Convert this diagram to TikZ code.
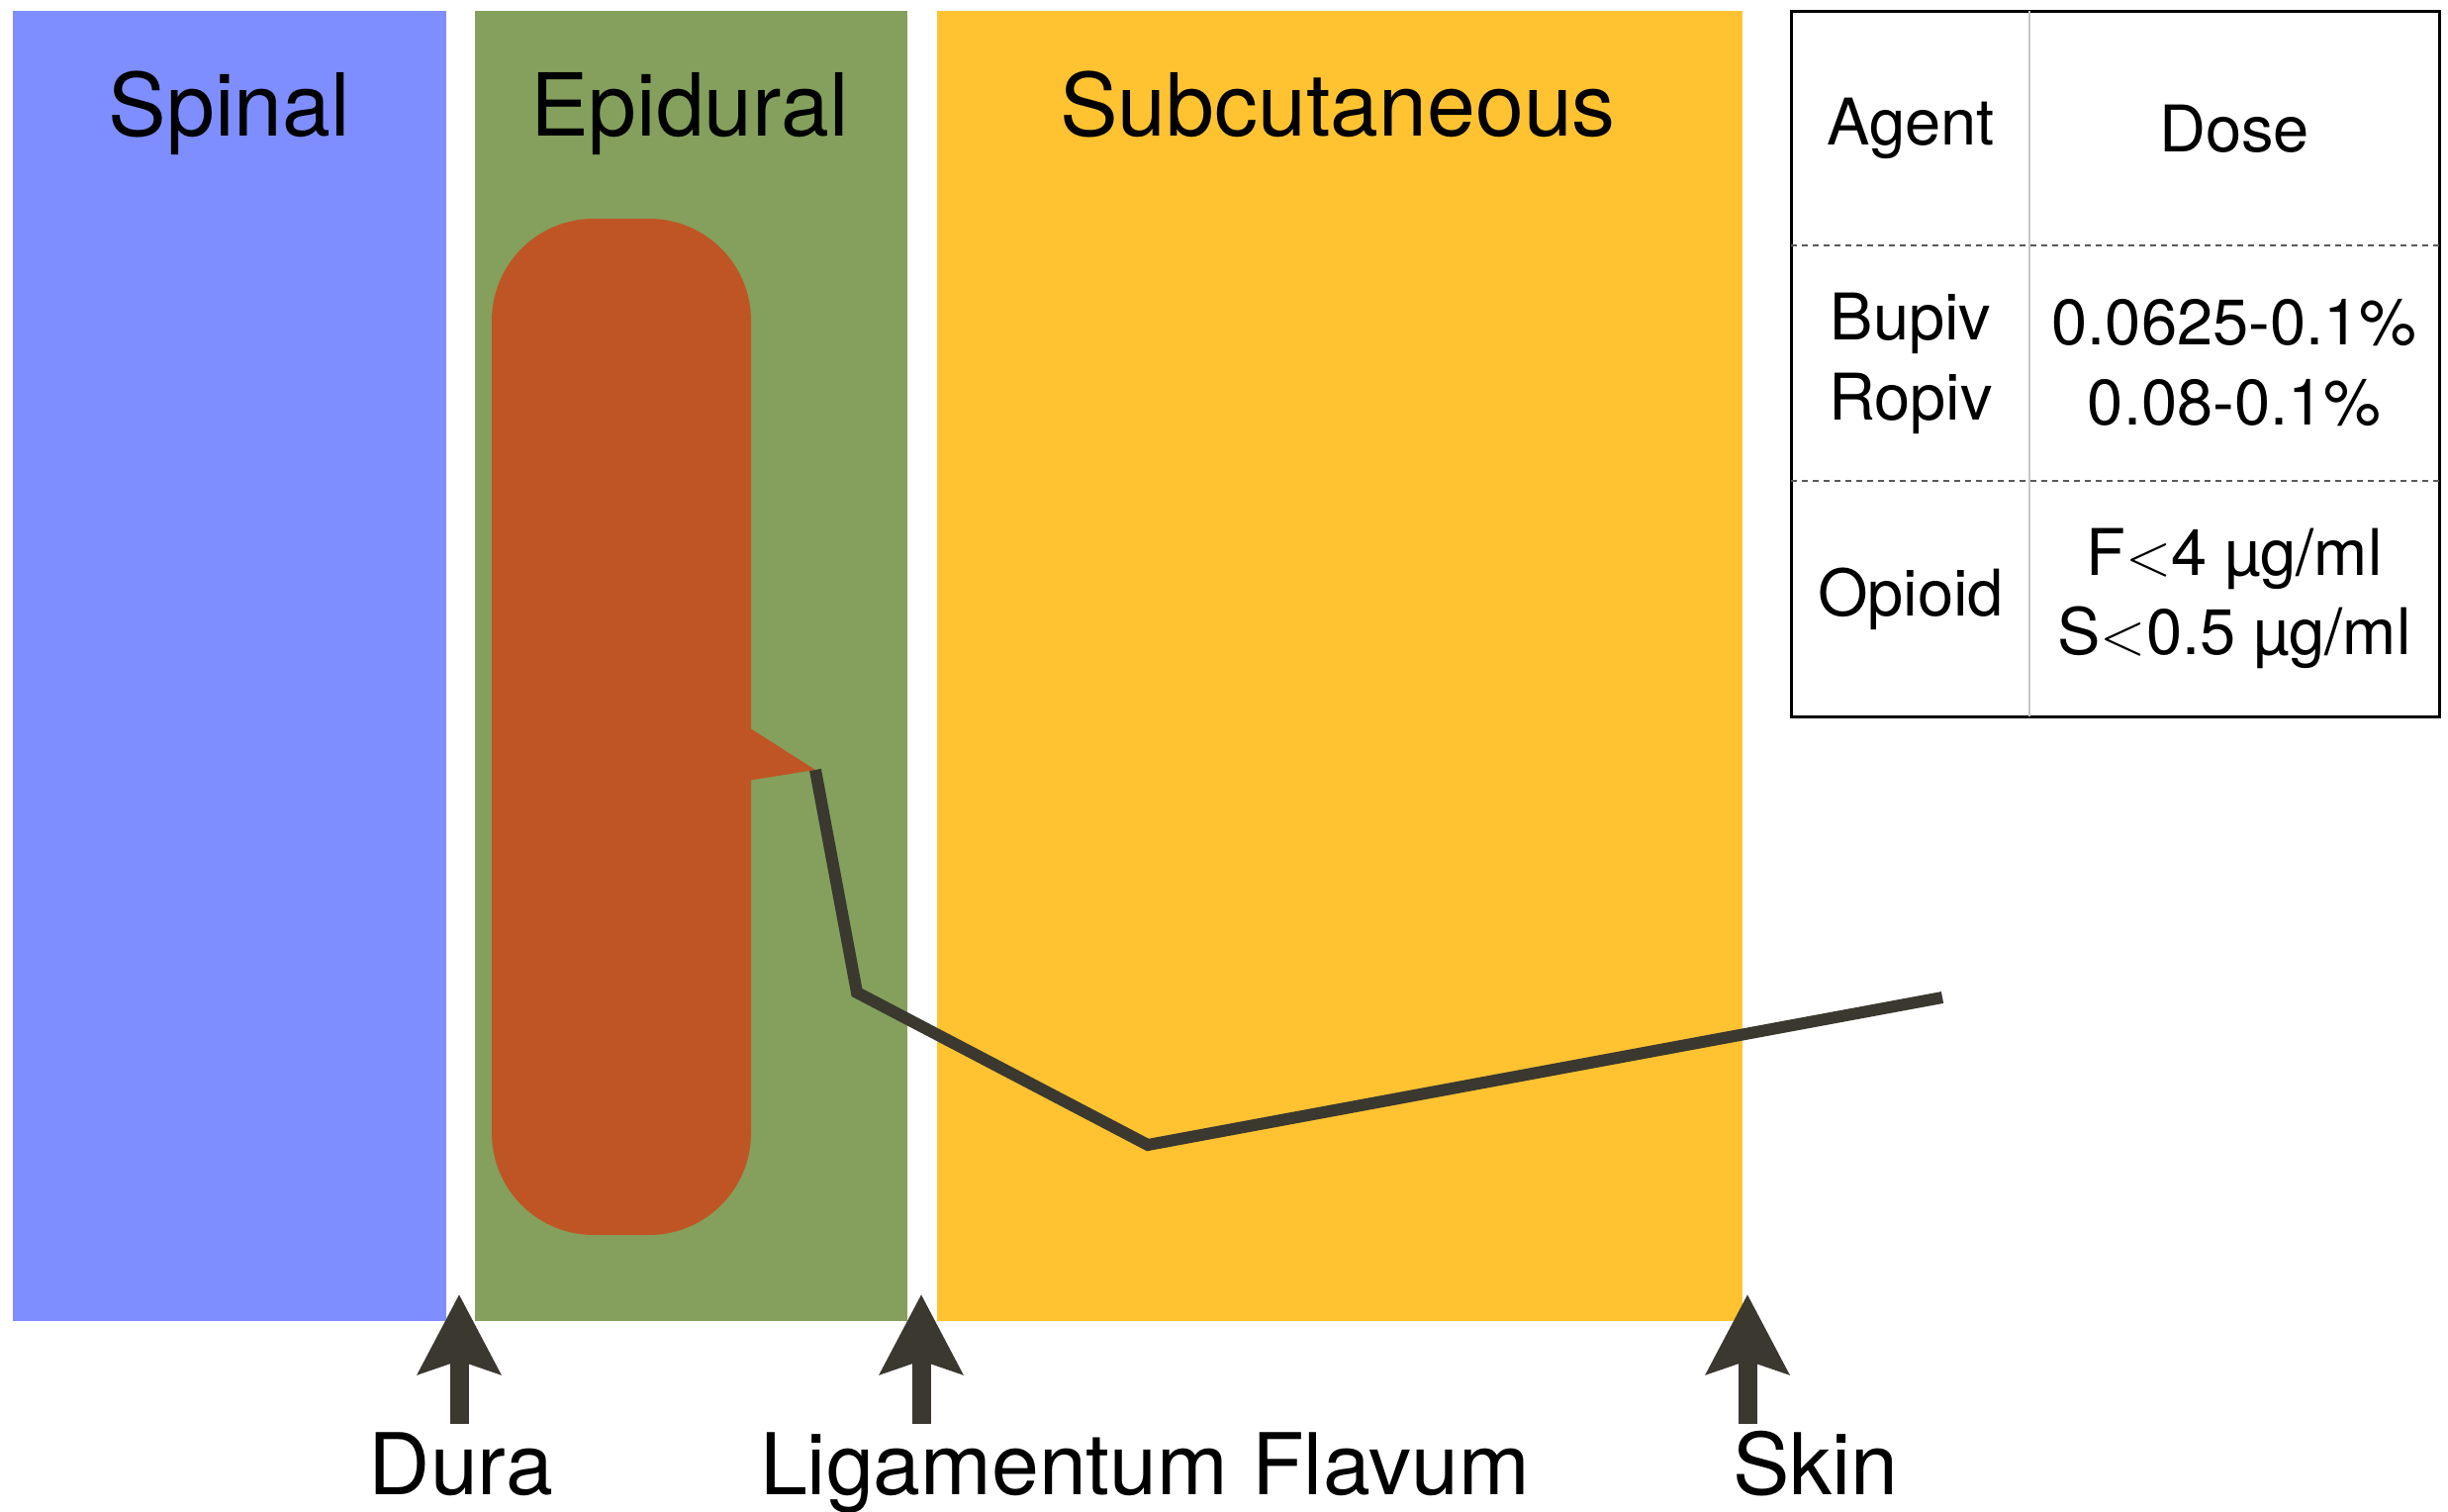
\documentclass[tikz,border=0pt]{standalone}
\usepackage{fontspec}
\setmainfont{TeX Gyre Heros}
\usetikzlibrary{arrows.meta, positioning}
\definecolor{spinalblue}{RGB}{127,142,255}
\definecolor{epigreen}{RGB}{132,160,92}
\definecolor{subyellow}{RGB}{255,195,50}
\definecolor{padorange}{RGB}{191,85,36}
\definecolor{darkline}{RGB}{58,56,47}

\begin{document}
\begin{tikzpicture}[
  region/.style={inner sep=0pt, minimum height=13.24cm},
  title/.style={anchor=base, font=\fontsize{25}{30}\selectfont},
  cell/.style={align=center, font=\fontsize{18.5}{23}\selectfont},
  tag/.style={anchor=base, font=\fontsize{24.5}{30}\selectfont},
  arr/.style={-{Stealth[length=0.8cm, width=0.82cm, inset=0.13cm]}, line width=0.19cm, draw=darkline},
  cath/.style={line width=0.12cm, draw=darkline, line join=miter}
]
\useasboundingbox (0,0) rectangle (24.74,-15.27);

% layers
\node[region, fill=spinalblue, minimum width=4.38cm] (spinal) at (2.32,-6.73) {};
\node[region, fill=epigreen, minimum width=4.37cm] (epidural) at (6.985,-6.73) {};
\node[region, fill=subyellow, minimum width=8.14cm] (subcut) at (13.54,-6.73) {};

\node[title] (spinaltxt) at (2.32,-1.37) {Spinal};
\node[title] (epiduraltxt) at (6.97,-1.37) {Epidural};
\node[title] (subcuttxt) at (13.52,-1.37) {Subcutaneous};

% spread of drug with catheter tip
\fill[padorange, rounded corners=1.03cm] (4.97,-2.21) rectangle (7.59,-12.48);
\fill[padorange] (7.55,-7.34) -- (8.24,-7.78) -- (7.55,-7.89) -- cycle;
\coordinate (tip) at (8.24,-7.78);
\coordinate (bend1) at (8.66,-10.03);
\coordinate (bend2) at (11.60,-11.57);
\coordinate (hub) at (19.63,-10.08);
\draw[cath] (tip) -- (bend1) -- (bend2) -- (hub);

% table
\draw[line width=0.03cm] (18.10,-0.11) rectangle (24.65,-7.24);
\draw[black!22, line width=0.02cm] (20.51,-0.11) -- (20.51,-7.24);
\draw[black!65, line width=0.02cm, dash pattern=on 0.06cm off 0.05cm] (18.10,-2.48) -- (24.65,-2.48);
\draw[black!65, line width=0.02cm, dash pattern=on 0.06cm off 0.05cm] (18.10,-4.86) -- (24.65,-4.86);
\node[cell] (agent) at (19.31,-1.30) {Agent};
\node[cell] (dose) at (22.58,-1.30) {Dose};
\node[cell] (local) at (19.31,-3.67) {Bupiv\\Ropiv};
\node[cell] (localdose) at (22.58,-3.67) {0.0625-0.1\%\\0.08-0.1\%};
\node[cell] (opioid) at (19.31,-6.05) {Opioid};
\node[cell] (opioiddose) at (22.58,-6.05) {F$<$4 µg/ml\\S$<$0.5 µg/ml};

% boundaries
\node[tag] (dura) at (4.66,-15.10) {Dura};
\node[tag] (ligament) at (11.57,-15.10) {Ligamentum Flavum};
\node[tag] (skin) at (18.35,-15.10) {Skin};
\coordinate (duratail) at (4.64,-14.39);
\coordinate (duratip) at (4.64,-13.08);
\coordinate (ligtail) at (9.31,-14.39);
\coordinate (ligtip) at (9.31,-13.08);
\coordinate (skintail) at (17.66,-14.39);
\coordinate (skintip) at (17.66,-13.08);
\draw[arr] (duratail) -- (duratip);
\draw[arr] (ligtail) -- (ligtip);
\draw[arr] (skintail) -- (skintip);
\end{tikzpicture}
\end{document}
